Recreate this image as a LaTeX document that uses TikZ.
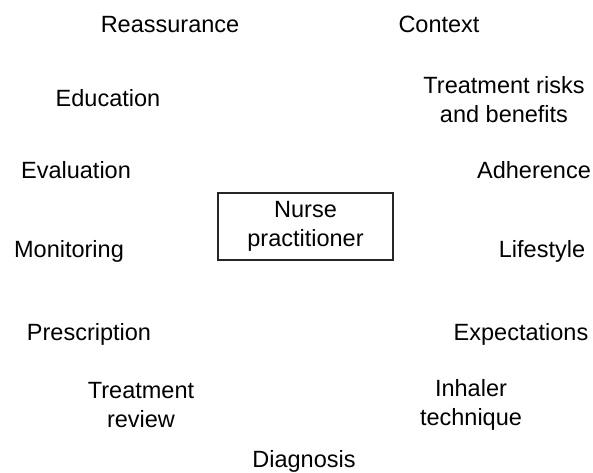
\documentclass[tikz,border=0pt]{standalone}
\usepackage{fontspec}
\setmainfont{Liberation Sans}
\begin{document}
\begin{tikzpicture}[x=0.5pt,y=-0.5pt,
  lbl/.style={inner sep=0pt, anchor=base, align=center, font=\fontsize{11.75}{14.5}\selectfont},
  centrebox/.style={draw=black!85, line width=0.6pt, inner sep=0pt, align=center,
    minimum width=87.5pt, minimum height=33.5pt, font=\fontsize{11.75}{14.5}\selectfont}]
\useasboundingbox (0,0) rectangle (593,472);
\node[centrebox] (np) at (305.5,226.5) {Nurse\\practitioner};
\node[lbl] (reass) at (170,32) {Reassurance};
\node[lbl] (context) at (439,32) {Context};
\node[lbl] (educ) at (108,106) {Education};
\node[lbl] (risks) at (504,122) {Treatment risks\\and benefits};
\node[lbl] (eval) at (76,178) {Evaluation};
\node[lbl] (adher) at (534,178) {Adherence};
\node[lbl] (monit) at (69,257) {Monitoring};
\node[lbl] (life) at (542,257) {Lifestyle};
\node[lbl] (presc) at (89,340) {Prescription};
\node[lbl] (expect) at (521,340) {Expectations};
\node[lbl] (review) at (141,427) {Treatment\\review};
\node[lbl] (inhaler) at (471,425) {Inhaler\\technique};
\node[lbl] (diag) at (304,467) {Diagnosis};
\end{tikzpicture}
\end{document}
